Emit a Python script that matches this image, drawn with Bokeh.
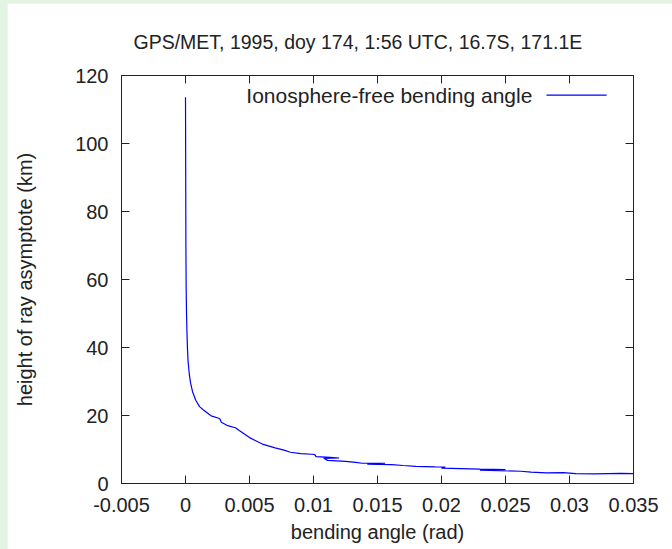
from bokeh.plotting import figure
from bokeh.models import Range1d, FixedTicker, LinearAxis, Label, ColumnDataSource, GlobalInlineStyleSheet
from bokeh.embed import file_html
from bokeh.resources import INLINE

# ---- data ----
bending_angle = [0.0, 0.00001, 0.00002, 0.00003, 0.00005, 0.00008, 0.00011, 0.00015,
                 0.00020, 0.00030, 0.00040, 0.00055, 0.00080, 0.00110, 0.00140, 0.00200,
                 0.00260, 0.00270, 0.00280, 0.00330, 0.00390, 0.00420, 0.00500, 0.00600,
                 0.00700, 0.00770, 0.00820, 0.00900, 0.00990, 0.01010, 0.01020, 0.01130,
                 0.01200, 0.01080, 0.01110, 0.01250, 0.01330, 0.01380, 0.01560, 0.01420,
                 0.01610, 0.01700, 0.01800, 0.01950, 0.02030, 0.02000, 0.02150, 0.02300,
                 0.02500, 0.02300, 0.02450, 0.02620, 0.02700, 0.02820, 0.02950, 0.03050,
                 0.03200, 0.03400, 0.03550]
height_km = [113.6, 100, 85, 70, 58, 50, 45, 40,
             36, 32, 29.5, 27, 24.5, 22.6, 21.6, 19.9,
             19.2, 18.9, 18.0, 17.0, 16.4, 15.6, 13.5, 11.6,
             10.5, 9.8, 9.2, 8.8, 8.6, 8.5, 7.9, 7.7,
             7.5, 7.4, 6.8, 6.5, 6.2, 5.95, 5.95, 5.7,
             5.55, 5.3, 5.05, 4.9, 4.85, 4.55, 4.4, 4.2,
             4.1, 3.9, 3.75, 3.6, 3.35, 3.1, 3.2, 2.9,
             2.85, 2.95, 2.9]

x_ticks = [-0.005, 0, 0.005, 0.01, 0.015, 0.02, 0.025, 0.03, 0.035]
x_tick_labels = ["-0.005", "0", "0.005", "0.01", "0.015", "0.02", "0.025", "0.03", "0.035"]
y_ticks = [0, 20, 40, 60, 80, 100, 120]
y_tick_labels = ["0", "20", "40", "60", "80", "100", "120"]

title_text = "GPS/MET, 1995, doy 174, 1:56 UTC, 16.7S, 171.1E"
series_name = "Ionosphere-free bending angle"
legend_text_x, legend_line_x0, legend_line_x1, legend_y = 0.0271, 0.0282, 0.0329, 114.2

FONT = "Liberation Sans"
FS = "20px"
INK = "#222222"

page_css = GlobalInlineStyleSheet(css="body{background:#e4f4e2;margin:3px 0 0 7px;}")

p = figure(width=665, height=546, output_backend="svg", toolbar_location=None,
           x_range=Range1d(-0.005, 0.035), y_range=Range1d(0, 120),
           min_border_left=114, min_border_right=39, min_border_top=72, min_border_bottom=66)
p.stylesheets = [page_css]
p.background_fill_color = "white"
p.border_fill_color = "white"
p.outline_line_color = INK
p.xgrid.visible = False
p.ygrid.visible = False

p.title.text = title_text
p.title.text_font = FONT
p.title.text_font_size = "19.5px"
p.title.text_font_style = "normal"
p.title.text_color = INK
p.title.align = "left"
p.title.vertical_align = "top"
p.title.offset = 12
p.title.standoff = 42

src = ColumnDataSource(dict(x=bending_angle, y=height_km))
p.line("x", "y", source=src, line_color="#0000ff", line_width=1.2)

def style_axis(ax, ticks, labels, show_labels=True):
    ax.ticker = FixedTicker(ticks=ticks)
    ax.major_label_overrides = {t: l for t, l in zip(ticks, labels)}
    ax.major_tick_in = 8
    ax.major_tick_out = 0
    ax.minor_tick_line_color = None
    ax.axis_line_color = INK
    ax.major_tick_line_color = INK
    ax.major_label_text_font = FONT
    ax.axis_label_text_font = FONT
    ax.axis_label_text_font_size = FS
    ax.axis_label_text_font_style = "normal"
    ax.axis_label_text_color = INK
    if show_labels:
        ax.major_label_text_font_size = FS
        ax.major_label_text_color = INK
    else:
        ax.major_label_text_font_size = "1px"
        ax.major_label_text_color = None
        ax.major_label_standoff = 0

xa = p.xaxis[0]
style_axis(xa, x_ticks, x_tick_labels)
xa.axis_label = "bending angle (rad)"
xa.major_label_standoff = 14
xa.axis_label_standoff = 6

ya = p.yaxis[0]
style_axis(ya, y_ticks, y_tick_labels)
ya.axis_label = "height of ray asymptote (km)"
ya.major_label_standoff = 13
ya.axis_label_standoff = 36

top = LinearAxis()
style_axis(top, x_ticks, x_tick_labels, show_labels=False)
p.add_layout(top, "above")
right = LinearAxis()
style_axis(right, y_ticks, y_tick_labels, show_labels=False)
p.add_layout(right, "right")

# legend (gnuplot style: text left, sample right)
p.add_layout(Label(x=legend_text_x, y=legend_y, text=series_name, text_align="right",
                   text_baseline="middle", text_font=FONT, text_font_size="21px",
                   text_color=INK))
p.segment(x0=[legend_line_x0], y0=[legend_y], x1=[legend_line_x1], y1=[legend_y],
          line_color="#0000ff", line_width=1.2)

open("out.html", "w").write(file_html(p, INLINE))
